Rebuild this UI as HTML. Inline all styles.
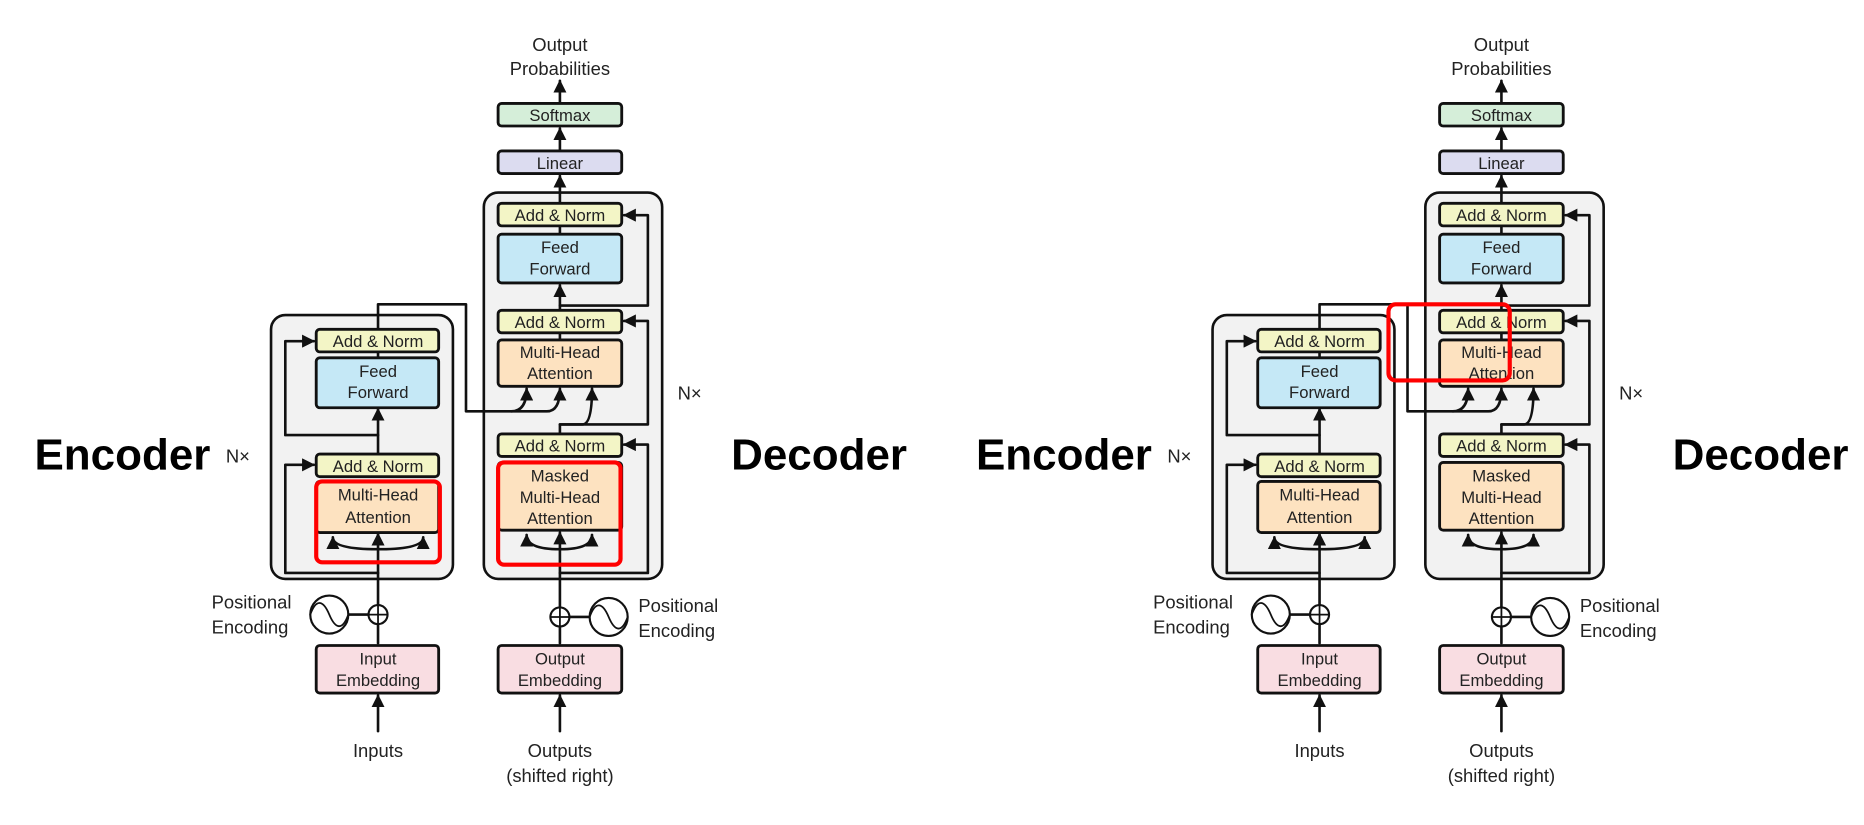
<!DOCTYPE html>
<html><head><meta charset="utf-8"><style>
html,body{margin:0;padding:0;background:#fff;width:1864px;height:825px;overflow:hidden}
svg{display:block}
text{font-family:"Liberation Sans",sans-serif;fill:#222}
.b{stroke:#111;stroke-width:2.4}
.l{fill:none;stroke:#111;stroke-width:2.2;stroke-linejoin:round;stroke-linecap:round}
.t{font-size:14px;text-anchor:middle}
.big{font-size:37px;font-weight:bold;fill:#000}
.lab{font-size:15.5px}
.red{fill:none;stroke:#f00;stroke-width:3.5}
</style></head><body>
<svg width="1864" height="825" viewBox="0 0 1568 694" preserveAspectRatio="none">
<defs><marker id="a" viewBox="0 0 10 10" refX="9" refY="5" markerWidth="5" markerHeight="5" orient="auto"><path d="M0,0L10,5L0,10z" fill="#111"/></marker></defs>

<g id="d1">
<rect x="407" y="162" width="150" height="325" rx="12" fill="#f2f2f2" stroke="#111" stroke-width="2.2"/>
<rect x="228" y="265" width="153" height="222" rx="12" fill="#f2f2f2" stroke="#111" stroke-width="2.2"/>
<!-- encoder lines -->
<path class="l" d="M318,541 L318,526"/><path class="l" d="M318,525 L318,512" marker-end="url(#a)"/>
<path class="l" d="M318,509 L318,449" marker-end="url(#a)"/>
<path class="l" d="M318,462 Q280,462 280,452" marker-end="url(#a)"/>
<path class="l" d="M318,462 Q356,462 356,452" marker-end="url(#a)"/>
<path class="l" d="M318,482 L240,482 L240,391 L264,391" marker-end="url(#a)"/>
<path class="l" d="M318,401 L318,344" marker-end="url(#a)"/>
<path class="l" d="M318,366 L240,366 L240,287 L264,287" marker-end="url(#a)"/>
<path class="l" d="M318,301 L318,296"/>
<path class="l" d="M318,277 L318,256 L392,256 L392,346 L460,346 Q471,346 471,327" marker-end="url(#a)"/>
<path class="l" d="M430,346 Q443,346 443,327" marker-end="url(#a)"/>
<!-- decoder lines -->
<path class="l" d="M471,541 L471,528"/>
<path class="l" d="M471,511 L471,448" marker-end="url(#a)"/>
<path class="l" d="M471,462 Q443,462 443,450" marker-end="url(#a)"/>
<path class="l" d="M471,462 Q498,462 498,450" marker-end="url(#a)"/>
<path class="l" d="M471,482 L545,482 L545,374 L525,374" marker-end="url(#a)"/>
<path class="l" d="M471,365 L471,357 L490,357 Q498,357 498,327" marker-end="url(#a)"/>
<path class="l" d="M471,357 L545,357 L545,270 L525,270" marker-end="url(#a)"/>
<path class="l" d="M471,286 L471,280"/>
<path class="l" d="M471,261 L471,240" marker-end="url(#a)"/>
<path class="l" d="M471,257 L545,257 L545,181 L525,181" marker-end="url(#a)"/>
<path class="l" d="M471,197 L471,190"/>
<path class="l" d="M471,171 L471,148" marker-end="url(#a)"/>
<path class="l" d="M471,127 L471,108" marker-end="url(#a)"/>
<path class="l" d="M471,87 L471,68" marker-end="url(#a)"/>
<path class="l" d="M318,615 L318,585" marker-end="url(#a)"/>
<path class="l" d="M471,615 L471,585" marker-end="url(#a)"/>
<!-- boxes -->
<rect class="b" x="419" y="87" width="104" height="19" rx="3" fill="#d5eed9"/><text class="t" x="471" y="102">Softmax</text>
<rect class="b" x="419" y="127" width="104" height="19" rx="3" fill="#dcdcf0"/><text class="t" x="471" y="142">Linear</text>
<rect class="b" x="419" y="171" width="104" height="19" rx="3" fill="#f3f5c6"/><text class="t" x="471" y="186">Add &amp; Norm</text>
<rect class="b" x="419" y="197" width="104" height="41" rx="3" fill="#c5e8f6"/><text class="t" x="471" y="213">Feed</text><text class="t" x="471" y="231">Forward</text>
<rect class="b" x="419" y="261" width="104" height="19" rx="3" fill="#f3f5c6"/><text class="t" x="471" y="276">Add &amp; Norm</text>
<rect class="b" x="419" y="286" width="104" height="39" rx="3" fill="#fde2c0"/><text class="t" x="471" y="301">Multi-Head</text><text class="t" x="471" y="319">Attention</text>
<rect class="b" x="419" y="365" width="104" height="19" rx="3" fill="#f3f5c6"/><text class="t" x="471" y="380">Add &amp; Norm</text>
<rect class="b" x="419" y="389" width="104" height="57" rx="3" fill="#fde2c0"/><text class="t" x="471" y="405">Masked</text><text class="t" x="471" y="423">Multi-Head</text><text class="t" x="471" y="441">Attention</text>
<rect class="b" x="419" y="543" width="104" height="40" rx="3" fill="#f9dde2"/><text class="t" x="471" y="559">Output</text><text class="t" x="471" y="577">Embedding</text>
<rect class="b" x="266" y="277" width="103" height="19" rx="3" fill="#f3f5c6"/><text class="t" x="318" y="292">Add &amp; Norm</text>
<rect class="b" x="266" y="301" width="103" height="42" rx="3" fill="#c5e8f6"/><text class="t" x="318" y="317">Feed</text><text class="t" x="318" y="335">Forward</text>
<rect class="b" x="266" y="382" width="103" height="19" rx="3" fill="#f3f5c6"/><text class="t" x="318" y="397">Add &amp; Norm</text>
<rect class="b" x="266" y="405" width="103" height="43" rx="3" fill="#fde2c0"/><text class="t" x="318" y="421">Multi-Head</text><text class="t" x="318" y="440">Attention</text>
<rect class="b" x="266" y="543" width="103" height="40" rx="3" fill="#f9dde2"/><text class="t" x="318" y="559">Input</text><text class="t" x="318" y="577">Embedding</text>
<!-- positional -->
<circle cx="318" cy="517" r="8" fill="#fff" stroke="#111" stroke-width="1.8"/><path class="l" d="M310,517H326M318,509V525" style="stroke-width:1.5"/>
<path class="l" d="M293,517H310"/>
<circle cx="277" cy="517" r="16" fill="#fff" stroke="#111" stroke-width="1.8"/><path class="l" d="M261,517 C266,503 272,505 277,517 C282,529 288,531 293,517" style="stroke-width:1.5"/>
<circle cx="471" cy="519" r="8" fill="#fff" stroke="#111" stroke-width="1.8"/><path class="l" d="M463,519H479M471,511V527" style="stroke-width:1.5"/>
<path class="l" d="M479,519H496"/>
<circle cx="512" cy="519" r="16" fill="#fff" stroke="#111" stroke-width="1.8"/><path class="l" d="M496,519 C501,505 507,507 512,519 C517,531 523,533 528,519" style="stroke-width:1.5"/>
<text class="lab" x="178" y="512">Positional</text><text class="lab" x="178" y="533">Encoding</text>
<text class="lab" x="537" y="515">Positional</text><text class="lab" x="537" y="536">Encoding</text>
<text class="lab" x="318" y="637" text-anchor="middle">Inputs</text>
<text class="lab" x="471" y="637" text-anchor="middle">Outputs</text><text class="lab" x="471" y="658" text-anchor="middle">(shifted right)</text>
<text class="lab" x="471" y="43" text-anchor="middle">Output</text><text class="lab" x="471" y="63" text-anchor="middle">Probabilities</text>
<text class="lab" x="190" y="389">N×</text><text class="lab" x="570" y="336">N×</text>
<text class="big" x="29" y="395">Encoder</text><text class="big" x="615" y="395">Decoder</text>
</g>
<rect class="red" x="266" y="405" width="104" height="68" rx="5"/>
<rect class="red" x="419" y="389" width="103" height="86" rx="5"/>

<g transform="translate(792,0)">
<rect x="407" y="162" width="150" height="325" rx="12" fill="#f2f2f2" stroke="#111" stroke-width="2.2"/>
<rect x="228" y="265" width="153" height="222" rx="12" fill="#f2f2f2" stroke="#111" stroke-width="2.2"/>
<path class="l" d="M318,541 L318,526"/><path class="l" d="M318,525 L318,512" marker-end="url(#a)"/>
<path class="l" d="M318,509 L318,449" marker-end="url(#a)"/>
<path class="l" d="M318,462 Q280,462 280,452" marker-end="url(#a)"/>
<path class="l" d="M318,462 Q356,462 356,452" marker-end="url(#a)"/>
<path class="l" d="M318,482 L240,482 L240,391 L264,391" marker-end="url(#a)"/>
<path class="l" d="M318,401 L318,344" marker-end="url(#a)"/>
<path class="l" d="M318,366 L240,366 L240,287 L264,287" marker-end="url(#a)"/>
<path class="l" d="M318,301 L318,296"/>
<path class="l" d="M318,277 L318,256 L392,256 L392,346 L460,346 Q471,346 471,327" marker-end="url(#a)"/>
<path class="l" d="M430,346 Q443,346 443,327" marker-end="url(#a)"/>
<path class="l" d="M471,541 L471,528"/>
<path class="l" d="M471,511 L471,448" marker-end="url(#a)"/>
<path class="l" d="M471,462 Q443,462 443,450" marker-end="url(#a)"/>
<path class="l" d="M471,462 Q498,462 498,450" marker-end="url(#a)"/>
<path class="l" d="M471,482 L545,482 L545,374 L525,374" marker-end="url(#a)"/>
<path class="l" d="M471,365 L471,357 L490,357 Q498,357 498,327" marker-end="url(#a)"/>
<path class="l" d="M471,357 L545,357 L545,270 L525,270" marker-end="url(#a)"/>
<path class="l" d="M471,286 L471,280"/>
<path class="l" d="M471,261 L471,240" marker-end="url(#a)"/>
<path class="l" d="M471,257 L545,257 L545,181 L525,181" marker-end="url(#a)"/>
<path class="l" d="M471,197 L471,190"/>
<path class="l" d="M471,171 L471,148" marker-end="url(#a)"/>
<path class="l" d="M471,127 L471,108" marker-end="url(#a)"/>
<path class="l" d="M471,87 L471,68" marker-end="url(#a)"/>
<path class="l" d="M318,615 L318,585" marker-end="url(#a)"/>
<path class="l" d="M471,615 L471,585" marker-end="url(#a)"/>
<rect class="b" x="419" y="87" width="104" height="19" rx="3" fill="#d5eed9"/><text class="t" x="471" y="102">Softmax</text>
<rect class="b" x="419" y="127" width="104" height="19" rx="3" fill="#dcdcf0"/><text class="t" x="471" y="142">Linear</text>
<rect class="b" x="419" y="171" width="104" height="19" rx="3" fill="#f3f5c6"/><text class="t" x="471" y="186">Add &amp; Norm</text>
<rect class="b" x="419" y="197" width="104" height="41" rx="3" fill="#c5e8f6"/><text class="t" x="471" y="213">Feed</text><text class="t" x="471" y="231">Forward</text>
<rect class="b" x="419" y="261" width="104" height="19" rx="3" fill="#f3f5c6"/><text class="t" x="471" y="276">Add &amp; Norm</text>
<rect class="b" x="419" y="286" width="104" height="39" rx="3" fill="#fde2c0"/><text class="t" x="471" y="301">Multi-Head</text><text class="t" x="471" y="319">Attention</text>
<rect class="b" x="419" y="365" width="104" height="19" rx="3" fill="#f3f5c6"/><text class="t" x="471" y="380">Add &amp; Norm</text>
<rect class="b" x="419" y="389" width="104" height="57" rx="3" fill="#fde2c0"/><text class="t" x="471" y="405">Masked</text><text class="t" x="471" y="423">Multi-Head</text><text class="t" x="471" y="441">Attention</text>
<rect class="b" x="419" y="543" width="104" height="40" rx="3" fill="#f9dde2"/><text class="t" x="471" y="559">Output</text><text class="t" x="471" y="577">Embedding</text>
<rect class="b" x="266" y="277" width="103" height="19" rx="3" fill="#f3f5c6"/><text class="t" x="318" y="292">Add &amp; Norm</text>
<rect class="b" x="266" y="301" width="103" height="42" rx="3" fill="#c5e8f6"/><text class="t" x="318" y="317">Feed</text><text class="t" x="318" y="335">Forward</text>
<rect class="b" x="266" y="382" width="103" height="19" rx="3" fill="#f3f5c6"/><text class="t" x="318" y="397">Add &amp; Norm</text>
<rect class="b" x="266" y="405" width="103" height="43" rx="3" fill="#fde2c0"/><text class="t" x="318" y="421">Multi-Head</text><text class="t" x="318" y="440">Attention</text>
<rect class="b" x="266" y="543" width="103" height="40" rx="3" fill="#f9dde2"/><text class="t" x="318" y="559">Input</text><text class="t" x="318" y="577">Embedding</text>
<circle cx="318" cy="517" r="8" fill="#fff" stroke="#111" stroke-width="1.8"/><path class="l" d="M310,517H326M318,509V525" style="stroke-width:1.5"/>
<path class="l" d="M293,517H310"/>
<circle cx="277" cy="517" r="16" fill="#fff" stroke="#111" stroke-width="1.8"/><path class="l" d="M261,517 C266,503 272,505 277,517 C282,529 288,531 293,517" style="stroke-width:1.5"/>
<circle cx="471" cy="519" r="8" fill="#fff" stroke="#111" stroke-width="1.8"/><path class="l" d="M463,519H479M471,511V527" style="stroke-width:1.5"/>
<path class="l" d="M479,519H496"/>
<circle cx="512" cy="519" r="16" fill="#fff" stroke="#111" stroke-width="1.8"/><path class="l" d="M496,519 C501,505 507,507 512,519 C517,531 523,533 528,519" style="stroke-width:1.5"/>
<text class="lab" x="178" y="512">Positional</text><text class="lab" x="178" y="533">Encoding</text>
<text class="lab" x="537" y="515">Positional</text><text class="lab" x="537" y="536">Encoding</text>
<text class="lab" x="318" y="637" text-anchor="middle">Inputs</text>
<text class="lab" x="471" y="637" text-anchor="middle">Outputs</text><text class="lab" x="471" y="658" text-anchor="middle">(shifted right)</text>
<text class="lab" x="471" y="43" text-anchor="middle">Output</text><text class="lab" x="471" y="63" text-anchor="middle">Probabilities</text>
<text class="lab" x="190" y="389">N×</text><text class="lab" x="570" y="336">N×</text>
<text class="big" x="29" y="395">Encoder</text><text class="big" x="615" y="395">Decoder</text>
<rect class="red" x="376" y="256" width="102" height="64" rx="6"/>
</g>
</svg>
</body></html>
